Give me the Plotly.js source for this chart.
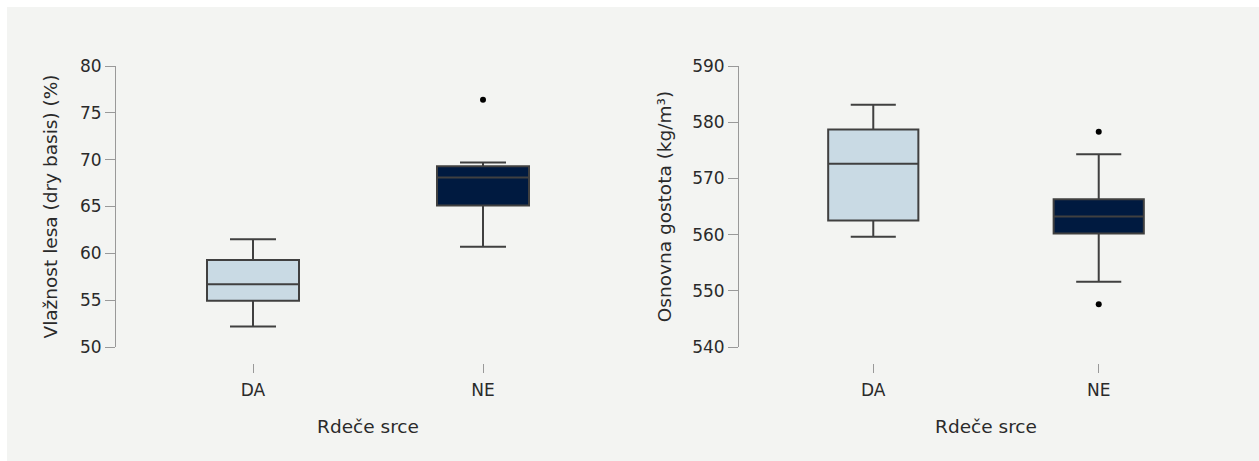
<!DOCTYPE html>
<html>
<head>
<meta charset="utf-8">
<script src="https://cdn.plot.ly/plotly-3.0.1.min.js"></script>
<style>
html,body{margin:0;padding:0;background:#ffffff;}
#chart{position:absolute;left:7px;top:7px;width:1252px;height:454px;}
</style>
</head>
<body>
<div id="chart"></div>
<script>
// Data
const categories = ['DA', 'NE'];
const xTitle = 'Rdeče srce';

// Left panel: Vlažnost lesa (dry basis) (%)
const moistureTitle = 'Vlažnost lesa (dry basis) (%)';
const moistureLower = [52.2, 60.7];
const moistureQ1 = [54.95, 65.1];
const moistureMedian = [56.7, 68.1];
const moistureQ3 = [59.3, 69.3];
const moistureUpper = [61.5, 69.7];
const moistureOutlierCat = ['NE'];
const moistureOutliers = [76.4];
const moistureTicks = [50, 55, 60, 65, 70, 75, 80];

// Right panel: Osnovna gostota (kg/m³)
const densityTitle = 'Osnovna gostota (kg/m³)';
const densityLower = [559.6, 551.6];
const densityQ1 = [562.5, 560.2];
const densityMedian = [572.6, 563.2];
const densityQ3 = [578.7, 566.3];
const densityUpper = [583.1, 574.3];
const densityOutlierCat = ['NE', 'NE'];
const densityOutliers = [578.3, 547.6];
const densityTicks = [540, 550, 560, 570, 580, 590];

const fills = ['#c9dae4', '#001a40'];
const lineColor = '#404040';
const textColor = '#2a2a2a';
const font = {family: 'DejaVu Sans, Liberation Sans, sans-serif', size: 17, color: textColor};
const titleFont = {family: font.family, size: 18.5, color: textColor};

function boxes(lower, q1, med, q3, upper, xa, ya) {
  return categories.map((c, i) => ({
    type: 'box',
    x: [c],
    q1: [q1[i]], median: [med[i]], q3: [q3[i]],
    lowerfence: [lower[i]], upperfence: [upper[i]],
    fillcolor: fills[i],
    line: {color: lineColor, width: 2},
    width: 0.4,
    whiskerwidth: 0.5,
    boxpoints: false,
    xaxis: xa, yaxis: ya,
    showlegend: false,
    hoverinfo: 'skip'
  }));
}

const traces = [
  ...boxes(moistureLower, moistureQ1, moistureMedian, moistureQ3, moistureUpper, 'x', 'y'),
  {type: 'scatter', mode: 'markers', x: moistureOutlierCat, y: moistureOutliers,
   marker: {color: '#000000', size: 6}, xaxis: 'x', yaxis: 'y', showlegend: false},
  ...boxes(densityLower, densityQ1, densityMedian, densityQ3, densityUpper, 'x2', 'y2'),
  {type: 'scatter', mode: 'markers', x: densityOutlierCat, y: densityOutliers,
   marker: {color: '#000000', size: 6}, xaxis: 'x2', yaxis: 'y2', showlegend: false}
];

const W = 1252, H = 454, offX = 7, offY = 7;
const px = v => (v - offX) / W;
const py = v => (H + offY - v) / H;

function xaxis(d0, d1) {
  return {
    domain: [px(d0), px(d1)], anchor: 'free', position: py(363),
    type: 'category', categoryorder: 'array', categoryarray: categories,
    range: [-0.6, 1.6],
    showline: false, showgrid: false, zeroline: false,
    ticks: 'outside', ticklen: 9, tickwidth: 1, tickcolor: '#999999',
    ticklabelstandoff: 3,
    tickfont: font,
    title: {text: xTitle, font: titleFont, standoff: 20},
    fixedrange: true
  };
}
function yaxis(range, ticks, title, pos, standoff) {
  return {
    domain: [py(347), py(66)], anchor: 'free', position: px(pos),
    range: range, tickvals: ticks,
    showline: true, linecolor: '#999999', linewidth: 1,
    showgrid: false, zeroline: false,
    ticks: 'outside', ticklen: 10, tickwidth: 1, tickcolor: '#999999',
    tickfont: font,
    title: {text: title, font: titleFont, standoff: standoff},
    fixedrange: true
  };
}

const layout = {
  width: W, height: H,
  margin: {l: 0, r: 0, t: 0, b: 0},
  paper_bgcolor: '#f3f4f2',
  plot_bgcolor: 'rgba(0,0,0,0)',
  boxmode: 'overlay',
  showlegend: false,
  font: font,
  xaxis: xaxis(115, 621),
  yaxis: yaxis([50, 80], moistureTicks, moistureTitle, 115, 16),
  xaxis2: xaxis(738, 1234),
  yaxis2: yaxis([540, 590], densityTicks, densityTitle, 738, 14)
};

Plotly.newPlot('chart', traces, layout, {staticPlot: true, displayModeBar: false});
</script>
</body>
</html>
